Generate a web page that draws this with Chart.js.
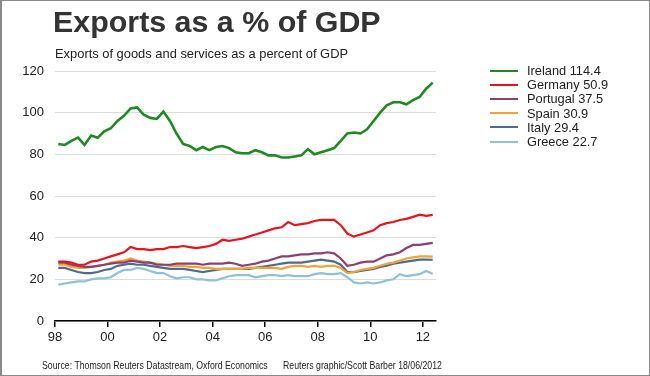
<!DOCTYPE html>
<html>
<head>
<meta charset="utf-8">
<script src="https://cdn.jsdelivr.net/npm/chart.js@4/dist/chart.umd.min.js"></script>
<style>
  html, body { margin: 0; padding: 0; background: #fff; }
  #wrap {
    position: relative; width: 650px; height: 376px; box-sizing: border-box;
    border: 1px solid #8a8a8a; border-left-width: 2px; overflow: hidden;
    font-family: "Liberation Sans", Arial, sans-serif; color: #333;
  }
  #chart { position: absolute; left: -2px; top: -1px; }
  .title { position: absolute; left: 51px; top: 3px; font-size: 30.4px; font-weight: bold; color: #333; white-space: nowrap; }
  .sub { position: absolute; left: 53px; top: 45px; font-size: 12.9px; color: #222; white-space: nowrap; }
  .legend { position: absolute; left: 488px; top: 63px; font-size: 12.8px; color: #222; }
  .legend div { height: 14.2px; line-height: 14.2px; white-space: nowrap; }
  .legend span.sw { display: inline-block; width: 28px; height: 2px; vertical-align: middle; margin-right: 9px; position: relative; top: -1px; }
  .foot { position: absolute; top: 358px; font-size: 11.5px; color: #222; white-space: nowrap; transform: scaleX(0.76); transform-origin: 0 0; }
</style>
</head>
<body>
<div id="wrap">
  <canvas id="chart" width="650" height="376"></canvas>
  <div class="title">Exports as a % of GDP</div>
  <div class="sub">Exports of goods and services as a percent of GDP</div>
  <div class="legend" id="legend"></div>
  <div class="foot" style="left:40px">Source: Thomson Reuters Datastream, Oxford Economics</div>
  <div class="foot" style="left:281px">Reuters graphic/Scott Barber 18/06/2012</div>
</div>
<script>
// quarterly, 1998 Q1 .. 2012 Q2
const startYear = 1998;
const xTicks = [1998, 2000, 2002, 2004, 2006, 2008, 2010, 2012];

const ireland = [85, 84.5, 86.5, 88, 84.5, 89, 88, 91, 92.5, 96, 98.5, 102, 102.5, 99, 97.5, 97,
  100.5, 96, 90, 85, 84, 82, 83.5, 82, 83.5, 84, 83, 81, 80.5, 80.5, 82, 81,
  79.5, 79.5, 78.5, 78.5, 79, 79.5, 82.5, 80, 81, 82, 83, 86.5, 90, 90.5, 90, 92,
  96, 100, 103.5, 105, 105, 104, 106, 107.5, 111.5, 114.4];
const germany = [28.5, 28.5, 28, 27, 27, 28.5, 29, 30, 31, 32, 33, 35.5, 34.5, 34.5, 34, 34.5,
  34.5, 35.5, 35.5, 36, 35.5, 35, 35.5, 36, 37, 39, 38.5, 39, 39.5, 40.5, 41.5, 42.5,
  43.5, 44.5, 45, 47.5, 46, 46.5, 47, 48, 48.5, 48.5, 48.5, 46, 42, 40.5, 41.5, 42.5,
  43.5, 46, 47, 47.5, 48.5, 49, 50, 51, 50.5, 50.9];
const portugal = [28, 28, 27, 26.5, 26, 26, 26.5, 27, 27.5, 28, 28, 29, 28.5, 28, 28, 27,
  27, 27, 27.5, 27.5, 27.5, 27.5, 27, 27.5, 27.5, 27.5, 28, 27.5, 26.5, 27, 27.5, 28.5,
  29, 30, 31, 31, 31.5, 32, 32, 32.5, 32.5, 33, 32.5, 30, 26.5, 27, 28, 28.5,
  28.5, 30, 31.5, 32, 33, 35, 36.5, 36.5, 37, 37.5];
const spain = [27, 27, 26, 25.5, 25.5, 26, 26.5, 27, 28, 28.5, 29, 30, 29, 28.5, 28, 27.5,
  27, 26.5, 26.5, 26.5, 26, 26, 25.5, 25.5, 25, 25, 25, 25, 25, 25.5, 25.5, 25.5,
  25.5, 25.5, 25, 26, 26.5, 26.5, 26, 26.5, 26, 26.5, 26.5, 25.5, 23, 23.5, 24.5, 25,
  25.5, 26.5, 27.5, 28, 29, 30, 30.5, 31, 31, 30.9];
const italy = [25.5, 25.5, 24.5, 23.5, 23, 23, 23.5, 24.5, 25, 26.5, 27, 27.5, 27, 27, 26.5, 26,
  25.5, 25, 25, 25, 24.5, 24, 23.5, 24, 24.5, 25, 25, 25, 25, 25, 25.5, 26,
  26.5, 27, 27.5, 28, 28, 28, 28.5, 29, 29.5, 29, 28.5, 27, 23.5, 23.5, 24, 24.5,
  25, 26, 26.5, 27.5, 28, 28.5, 29, 29.5, 29.5, 29.4];
const greece = [17.5, 18, 18.5, 19, 19, 20, 20.5, 20.5, 21, 23, 24.5, 24.5, 25.5, 25, 24, 23,
  23, 21.5, 20.5, 21, 21, 20, 20, 19.5, 19.5, 20.5, 21.5, 22, 22, 22, 21, 21.5,
  22, 22, 21.5, 22, 21.5, 21.5, 21.5, 22.5, 23, 22.5, 22.5, 23, 21, 18.5, 18, 18.5,
  18, 18.5, 19.5, 20, 22.5, 21.5, 22, 22.5, 24, 22.7];

const seriesNames  = ['Ireland', 'Germany', 'Portugal', 'Spain', 'Italy', 'Greece'];
const seriesValues = [ireland, germany, portugal, spain, italy, greece];
const seriesColors = ['#1f8a22', '#e8141c', '#8b3f73', '#f5a235', '#4c6c8c', '#8fc1d8'];

const toPoints = vals => vals.map((v, i) => ({ x: startYear + 0.125 + i * 0.25, y: v }));

// legend
const legend = document.getElementById('legend');
seriesNames.forEach((name, i) => {
  const vals = seriesValues[i];
  const row = document.createElement('div');
  row.innerHTML = `<span class="sw" style="background:${seriesColors[i]}"></span>${name} ${vals[vals.length - 1]}`;
  legend.appendChild(row);
});

// lower order draws on top, so Ireland / Germany sit above the rest
const datasets = seriesNames.map((name, i) => ({
  label: name,
  data: toPoints(seriesValues[i]),
  borderColor: seriesColors[i],
  borderWidth: i === 0 ? 2.6 : 2.2,
  pointRadius: 0,
  tension: 0,
  fill: false,
  order: i,
}));

new Chart(document.getElementById('chart'), {
  type: 'line',
  data: { datasets },
  options: {
    responsive: false,
    animation: false,
    layout: { padding: { left: 0, top: 71, right: 214, bottom: 0 } },
    plugins: { legend: { display: false }, tooltip: { enabled: false } },
    scales: {
      x: {
        type: 'linear',
        min: 1998,
        max: 2012.5,
        afterFit: s => { s.height = 55; },
        afterBuildTicks: s => { s.ticks = xTicks.map(v => ({ value: v })); },
        ticks: {
          color: '#222',
          font: { family: 'Liberation Sans', size: 13 },
          padding: 3,
          maxRotation: 0,
          callback: v => String(v).slice(2),
        },
        grid: { drawOnChartArea: false, drawTicks: true, tickLength: 6, color: '#000', lineWidth: 1.5 },
        border: { display: true, color: '#000', width: 1.5 },
      },
      y: {
        min: 0,
        max: 120,
        afterFit: s => { s.width = 55; },
        ticks: {
          stepSize: 20,
          color: '#222',
          font: { family: 'Liberation Sans', size: 13 },
          padding: 11,
        },
        grid: { color: '#dcdcdc', drawTicks: false, lineWidth: 1 },
        border: { display: false },
      },
    },
  },
});
</script>
</body>
</html>
